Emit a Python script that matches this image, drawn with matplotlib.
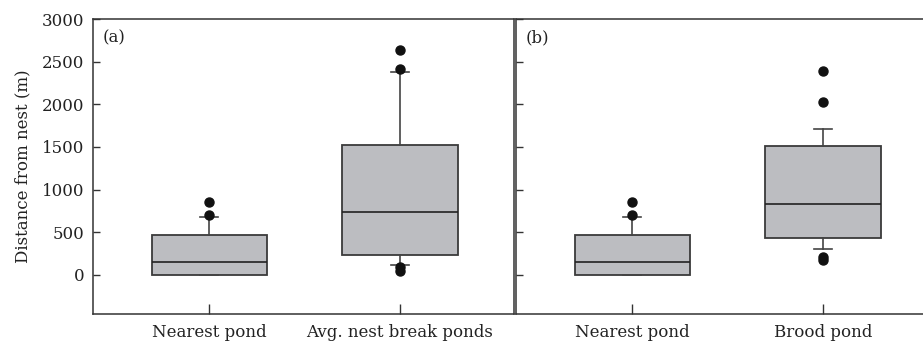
import matplotlib
matplotlib.use('Agg')
import matplotlib.pyplot as plt

plt.rcParams['font.family'] = ['DejaVu Serif']

# box summaries (m)
labels_a = ['Nearest pond', 'Avg. nest break ponds']
labels_b = ['Nearest pond', 'Brood pond']

med_a = [148, 738]
q1_a = [0, 231]
q3_a = [472, 1527]
lo_a = [0, 117]
hi_a = [676, 2383]
fliers_a = [[707, 855], [2414, 2640, 86, 50]]

med_b = [148, 828]
q1_b = [0, 426]
q3_b = [472, 1512]
lo_b = [0, 297]
hi_b = [676, 1715]
fliers_b = [[707, 855], [2023, 2390, 207, 178]]

box_fill = '#bcbdc1'
edge = '#3a3a3a'


def make_stats(labels, med, q1, q3, lo, hi, fliers):
    out = []
    for i in range(len(labels)):
        out.append(dict(label=labels[i], med=med[i], q1=q1[i], q3=q3[i],
                        whislo=lo[i], whishi=hi[i], fliers=fliers[i]))
    return out


def draw(ax, stats, tag):
    ax.bxp(stats, positions=[1, 2], widths=0.604, patch_artist=True,
           showfliers=True,
           boxprops=dict(facecolor=box_fill, edgecolor=edge, linewidth=1.3),
           medianprops=dict(color='#222222', linewidth=1.2),
           whiskerprops=dict(color='#444444', linewidth=1.2),
           capprops=dict(color='#444444', linewidth=1.2),
           capwidths=0.094,
           flierprops=dict(marker='o', markerfacecolor='#111111',
                           markeredgecolor='#111111', markersize=6.5))
    ax.set_xlim(0.39, 2.598)
    ax.set_ylim(-460, 3000)
    ax.set_yticks(range(0, 3001, 500))
    ax.tick_params(axis='both', direction='in', length=5, width=1,
                   color='#333333', labelsize=12, labelcolor='#222222')
    ax.tick_params(axis='y', pad=6)
    ax.tick_params(axis='x', length=7, pad=7)
    for s in ax.spines.values():
        s.set_color('#333333')
        s.set_linewidth(1.1)
    ax.text(0.022, 0.965, tag, transform=ax.transAxes, ha='left', va='top',
            fontsize=12, color='#222222')


fig = plt.figure(figsize=(9.23, 3.42), dpi=100)
W, H = 923, 342
ax1 = fig.add_axes([93 / W, 1 - 314 / H, 421 / W, 295 / H])
ax2 = fig.add_axes([516 / W, 1 - 314 / H, 421 / W, 295 / H])

draw(ax1, make_stats(labels_a, med_a, q1_a, q3_a, lo_a, hi_a, fliers_a), '(a)')
draw(ax2, make_stats(labels_b, med_b, q1_b, q3_b, lo_b, hi_b, fliers_b), '(b)')
ax2.set_yticklabels([])
ax1.set_ylabel('Distance from nest (m)', fontsize=12, color='#222222', labelpad=8)

fig.savefig('out.png', dpi=100)
